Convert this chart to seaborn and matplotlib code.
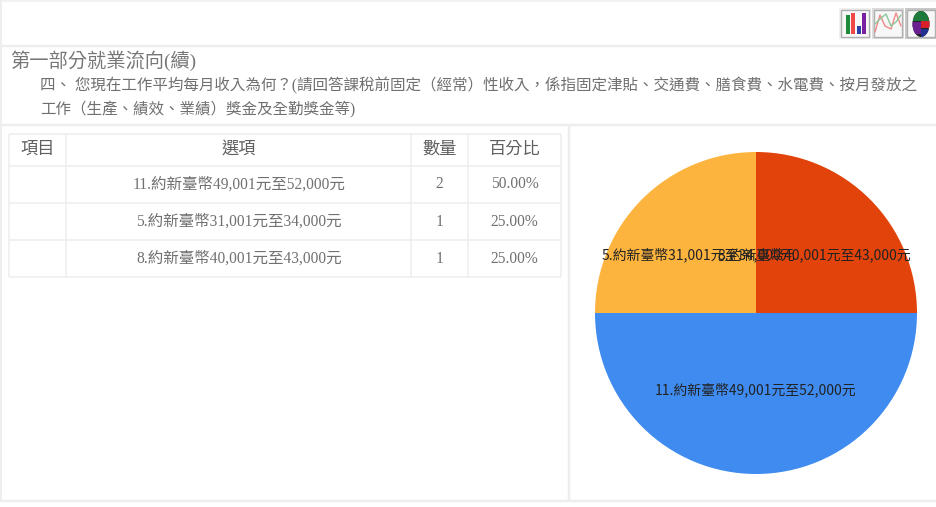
import math
import matplotlib
matplotlib.use("Agg")
import matplotlib.pyplot as plt
from matplotlib.patches import Rectangle, Ellipse
import seaborn as sns

sns.set_theme(style="white")

# ---- data ----
heading = "第一部分就業流向(續)"
question_1 = "四、 您現在工作平均每月收入為何？(請回答課稅前固定（經常）性收入，係指固定津貼、交通費、膳食費、水電費、按月發放之"
question_2 = "工作（生產、績效、業績）獎金及全勤獎金等)"
table_header = ["項目", "選項", "數量", "百分比"]
table_options = ["11.約新臺幣49,001元至52,000元", "5.約新臺幣31,001元至34,000元", "8.約新臺幣40,001元至43,000元"]
table_counts = [2, 1, 1]
table_percents = ["50.00%", "25.00%", "25.00%"]
pie_labels = ["8.約新臺幣40,001元至43,000元", "11.約新臺幣49,001元至52,000元", "5.約新臺幣31,001元至34,000元"]
pie_values = [1, 2, 1]
pie_colors = ["#E2430A", "#3F8BEF", "#FDB43F"]

W, H = 937, 507
SERIF = ["Liberation Serif", "Noto Sans CJK TC"]
SANS = ["Noto Sans CJK TC", "DejaVu Sans"]
LINE = "#EEEEEE"
TXT = "#707070"

fig = plt.figure(figsize=(W / 100, H / 100), dpi=100, facecolor="white")

# page layer in pixel coordinates
page = fig.add_axes([0, 0, 1, 1])
page.set_xlim(0, W)
page.set_ylim(H, 0)
page.axis("off")


def hline(y, x0, x1, lw=2.0, c=LINE):
    page.plot([x0, x1], [y, y], color=c, lw=lw * 0.72, solid_capstyle="butt")


def vline(x, y0, y1, lw=2.0, c=LINE):
    page.plot([x, x], [y0, y1], color=c, lw=lw * 0.72, solid_capstyle="butt")


# panel borders
hline(0.5, 0, W, 1.5)
hline(46, 0, W, 2.5)
hline(125, 0, W, 2.5)
hline(500.5, 0, W, 2.5)
vline(1.5, 0, 501, 2)
vline(569, 125, 501, 2.5)

# header texts
page.text(10, 60.5, heading, fontsize=13.9, color="#777777", family=SERIF, va="center")
page.text(40, 85.5, question_1, fontsize=11.2, color=TXT, family=SERIF, va="center")
page.text(40, 109.5, question_2, fontsize=11.2, color=TXT, family=SERIF, va="center")

# table
col_x = [9.5, 66, 411.5, 468, 561]
row_y = [133.5, 165.5, 202.5, 240, 277]
for x in col_x:
    vline(x, row_y[0], row_y[-1], 1.6)
for y in row_y:
    hline(y, col_x[0], col_x[-1], 1.6)
centers = [(col_x[i] + col_x[i + 1]) / 2 for i in range(4)]
for cx_, t in zip(centers, table_header):
    page.text(cx_, 149.5, t, fontsize=12.4, color="#606060", family=SERIF, ha="center", va="center")
for i in range(3):
    cy_ = (row_y[i + 1] + row_y[i + 2]) / 2 + 0.5
    page.text(centers[1], cy_, table_options[i], fontsize=11.2, color=TXT, family=SERIF, ha="center", va="center")
    page.text(centers[2], cy_, str(table_counts[i]), fontsize=11.2, color=TXT, family=SERIF, ha="center", va="center")
    page.text(centers[3], cy_, table_percents[i], fontsize=11.2, color=TXT, family=SERIF, ha="center", va="center")

# toolbar icons
for x0, x1, fc in [(839, 871, "#EFEFEF"), (872, 904, "#DDDDDD"), (905, 937, "#C8C8C8")]:
    page.add_patch(Rectangle((x0, 8), x1 - x0, 31, fc=fc, ec="none"))
    page.add_patch(Rectangle((x0 + 2, 10), x1 - x0 - 4, 27, fc="#F7F7F7", ec="#B0B0B0", lw=1))
for x, top, c in [(846, 15, "#1E8A3A"), (851, 13, "#F04848"), (857, 26, "#2A3FA8"), (862, 13, "#7A1FA0")]:
    page.add_patch(Rectangle((x, top), 4, 34 - top, fc=c, ec="none"))
page.plot([875, 880, 885, 891, 896, 901], [32, 15, 26, 29, 13, 26], color="#F08A8A", lw=1.0)
page.plot([875, 880, 886, 891, 896, 901], [24, 19, 14, 26, 22, 15], color="#8CC79A", lw=1.0)
icon = Ellipse((921, 24), 17, 26, fc="#222222", ec="none")
page.add_patch(icon)
for (x, y, w, h, c) in [(921.5, 17, 9, 11, "#D8202A"), (912, 22, 9, 12, "#6A1F90"),
                        (921.5, 28.5, 9, 9, "#22308F"), (912, 10, 18, 11, "#1E7A3A")]:
    r = Rectangle((x, y), w, h, fc=c, ec="none")
    page.add_patch(r)
    r.set_clip_path(icon)

# pie chart
cx, cy, R = 756, 313, 161
label_radius = [0.51, 0.48, 0.51]
ax = fig.add_axes([(cx - R) / W, 1 - (cy + R) / H, 2 * R / W, 2 * R / H])
palette = sns.color_palette(pie_colors)
wedges, _ = ax.pie(pie_values, colors=palette, startangle=90, counterclock=False, radius=1,
                   wedgeprops={"linewidth": 0})
ax.set_xlim(-1, 1)
ax.set_ylim(-1, 1)
ax.set_aspect("equal")
for w, lab, r in zip(wedges, pie_labels, label_radius):
    mid = math.radians((w.theta1 + w.theta2) / 2)
    ax.text(r * math.cos(mid), r * math.sin(mid), lab, fontsize=10, color="#222222",
            family=SANS, ha="center", va="center", clip_on=False)

fig.savefig("out.png", dpi=100, facecolor="white")
